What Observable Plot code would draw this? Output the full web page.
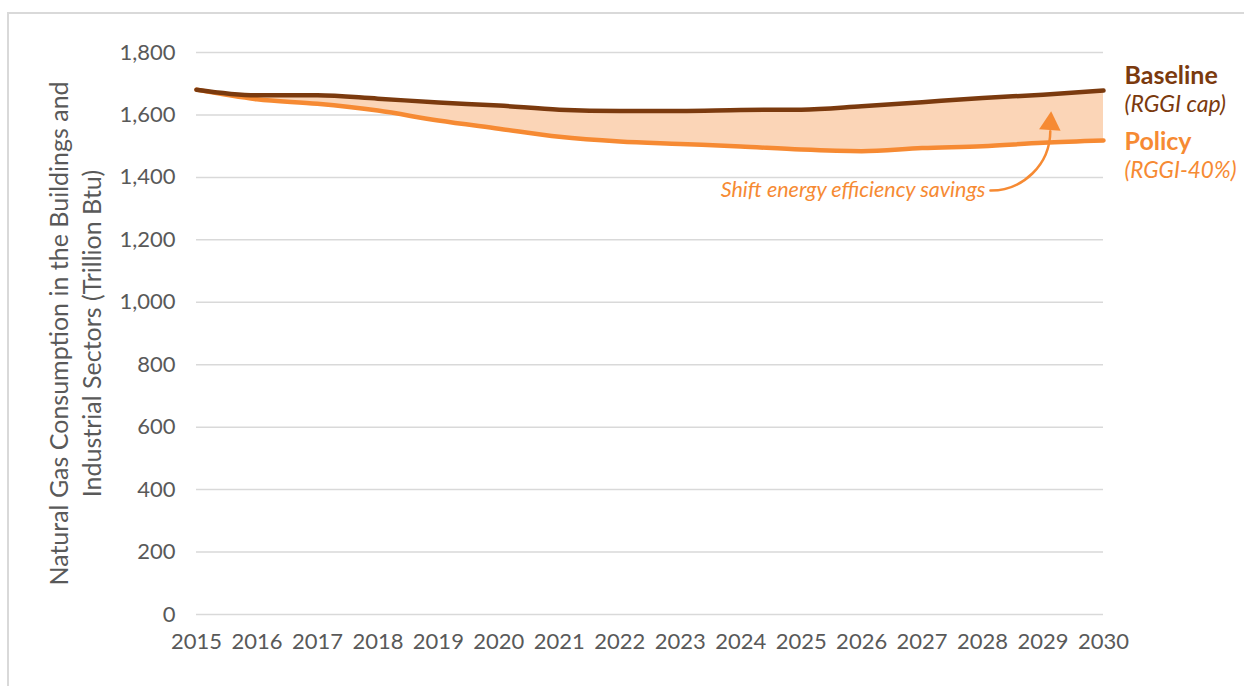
<!DOCTYPE html>
<html><head><meta charset="utf-8">
<script src="https://cdn.jsdelivr.net/npm/d3@7"></script>
<script src="https://cdn.jsdelivr.net/npm/@observablehq/plot@0.6"></script>
<style>
body{margin:0;background:#fff;}
#wrap{position:relative;width:1244px;height:686px;overflow:hidden;}
#frame{position:absolute;left:7px;top:12px;width:1300px;height:720px;border:2px solid #d9d9d9;box-sizing:border-box;}
#chart{position:absolute;left:0;top:0;}
</style></head><body>
<div id="wrap"><div id="frame"></div><div id="chart"></div></div>
<script>
const years    = [2015,2016,2017,2018,2019,2020,2021,2022,2023,2024,2025,2026,2027,2028,2029,2030];
const baseline = [1681,1663,1663,1652,1640,1630,1617,1613,1613,1616,1617,1628,1641,1654,1665,1678];
const policy   = [1681,1650,1636,1614,1582,1556,1530,1515,1507,1499,1489,1484,1494,1500,1511,1518];
const yTicks   = [0,200,400,600,800,1000,1200,1400,1600,1800];
const yTitle   = ["Natural Gas Consumption in the Buildings and\nIndustrial Sectors (Trillion Btu)"];
const annotationText = ["Shift energy efficiency savings"];
const annotationYear = [2028.13];
const annotationValue = [1358];
const arrowEndYear = [2029.12];
const arrowEndValue = [1548];
const arrowTipValue = [1572];

const BROWN = "#7B3A0E", ORANGE = "#F68A33", FILL = "#FBD5B7", GRAY = "#595959";

const rows = years.map((y, i) => ({year: y, baseline: baseline[i], policy: policy[i]}));
const last = rows[rows.length - 1];
const fmt = d3.format(",.0f");

const chart = Plot.plot({
  width: 1244, height: 686,
  marginLeft: 196, marginRight: 141, marginTop: 52, marginBottom: 72,
  style: {fontFamily: "Lato, 'Open Sans', sans-serif", fontSize: "22px", color: GRAY, background: "transparent"},
  x: {domain: [2015, 2030]},
  y: {domain: [0, 1800]},
  marks: [
    Plot.gridY({ticks: yTicks, stroke: "#d9d9d9", strokeOpacity: 1, strokeWidth: 1.5}),
    Plot.axisY({ticks: yTicks, tickSize: 0, tickPadding: 21, tickFormat: fmt, label: null}),
    Plot.axisX({ticks: years, tickSize: 0, tickPadding: 19, tickFormat: "d", label: null}),
    Plot.text(yTitle, {frameAnchor: "left", dx: -123, rotate: -90, text: d => d, textAnchor: "middle", lineAnchor: "middle", lineHeight: 1.32, fontSize: 25, fill: GRAY}),
    Plot.areaY(rows, {x: "year", y1: "policy", y2: "baseline", fill: FILL, curve: "monotone-x"}),
    Plot.line(rows, {x: "year", y: "policy", stroke: ORANGE, strokeWidth: 4.5, curve: "monotone-x"}),
    Plot.line(rows, {x: "year", y: "baseline", stroke: BROWN, strokeWidth: 4.5, curve: "monotone-x"}),
    Plot.arrow([0], {x1: annotationYear, y1: annotationValue, x2: arrowEndYear, y2: arrowEndValue, bend: -45, headLength: 0, stroke: ORANGE, strokeWidth: 2.5}),
    Plot.dot([0], {x: arrowEndYear, y: arrowTipValue, symbol: "triangle", r: 8, fill: ORANGE, stroke: null, rotate: 4}),
    Plot.text(annotationText, {x: annotationYear, y: annotationValue, text: d => d, dx: -5, textAnchor: "end", fill: ORANGE, fontStyle: "italic", fontSize: 21.5}),
    Plot.text([last], {x: "year", y: "baseline", text: () => "Baseline", dx: 21, dy: -15, textAnchor: "start", fill: BROWN, fontWeight: "bold", fontSize: 25}),
    Plot.text([last], {x: "year", y: "baseline", text: () => "(RGGI cap)", dx: 21, dy: 14, textAnchor: "start", fill: BROWN, fontStyle: "italic", fontSize: 23}),
    Plot.text([last], {x: "year", y: "policy", text: () => "Policy", dx: 21, dy: 1, textAnchor: "start", fill: ORANGE, fontWeight: "bold", fontSize: 25}),
    Plot.text([last], {x: "year", y: "policy", text: () => "(RGGI-40%)", dx: 21, dy: 30, textAnchor: "start", fill: ORANGE, fontStyle: "italic", fontSize: 22.5})
  ]
});
document.getElementById("chart").appendChild(chart);
</script>
</body></html>
